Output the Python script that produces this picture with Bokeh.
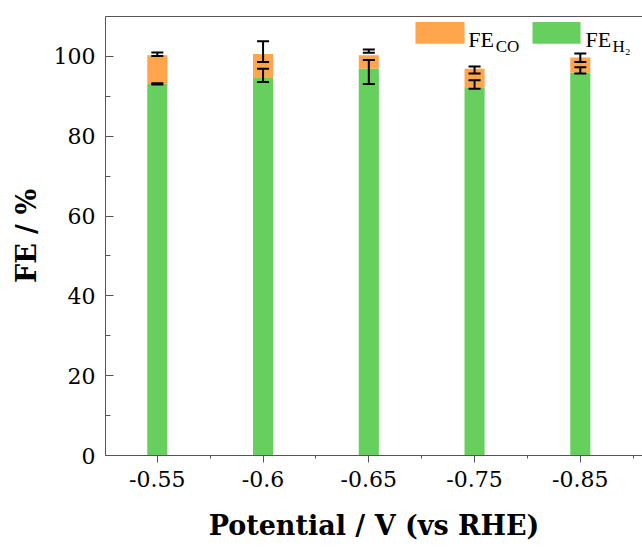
from bokeh.plotting import figure
from bokeh.models import (Range1d, FixedTicker, LinearAxis, Whisker, TeeHead,
                          ColumnDataSource, BoxAnnotation, Label)
from bokeh.embed import file_html
from bokeh.resources import INLINE

# ---- data ----
potential = ["-0.55", "-0.6", "-0.65", "-0.75", "-0.85"]
fe_h2 = [93.1, 94.6, 97.0, 92.3, 95.9]
fe_total = [100.3, 100.6, 100.3, 96.9, 99.7]
total_err_low = [100.1, 98.6, 100.9, 95.7, 98.6]
total_err_high = [101.0, 103.8, 101.7, 97.5, 100.7]
h2_err_low = [92.95, 93.6, 93.1, 91.9, 95.7]
h2_err_high = [93.3, 96.9, 99.1, 94.0, 97.3]

x_idx = list(range(len(potential)))
fe_co = [t - h for t, h in zip(fe_total, fe_h2)]

ORANGE = "#FFA54D"
GREEN = "#66CF5D"
SERIF = "Times New Roman"
AXFONT = "DejaVu Serif"

src = ColumnDataSource(dict(x=x_idx, h2=fe_h2, co=fe_co, total=fe_total,
                            tlo=total_err_low, thi=total_err_high,
                            hlo=h2_err_low, hhi=h2_err_high))

p = figure(width=642, height=553, output_backend="svg", toolbar_location=None,
           x_range=Range1d(-0.49, 4.588), y_range=Range1d(0, 110),
           min_border_left=105, min_border_right=0, min_border_top=16,
           min_border_bottom=98)
p.outline_line_color = None
p.grid.visible = False
p.background_fill_color = "white"

p.vbar_stack(["h2", "co"], x="x", width=0.19, source=src,
             color=[GREEN, ORANGE], line_color=None)

for lo, hi in (("tlo", "thi"), ("hlo", "hhi")):
    w = Whisker(base="x", lower=lo, upper=hi, source=src, level="overlay",
                line_color="black", line_width=2,
                upper_head=TeeHead(size=12, line_width=2, line_color="black"),
                lower_head=TeeHead(size=12, line_width=2, line_color="black"))
    p.add_layout(w)

AX = "#555555"
# x axis
xa = p.xaxis[0]
xa.ticker = FixedTicker(ticks=x_idx, minor_ticks=[-0.5, 0.5, 1.5, 2.5, 3.5, 4.5])
xa.major_label_overrides = {i: s for i, s in zip(x_idx, potential)}
xa.major_tick_in = 0
xa.major_tick_out = 7
xa.minor_tick_in = 0
xa.minor_tick_out = 3
xa.major_label_standoff = 8
xa.axis_label = "Potential / V (vs RHE)"
xa.axis_label_standoff = 20

# y axis
ya = p.yaxis[0]
ya.ticker = FixedTicker(ticks=[0, 20, 40, 60, 80, 100], minor_ticks=[10, 30, 50, 70, 90])
ya.major_tick_in = 8
ya.major_tick_out = 0
ya.minor_tick_in = 5
ya.minor_tick_out = 0
ya.major_label_standoff = 10
ya.axis_label = "FE / %"
ya.axis_label_standoff = 9

for ax in (xa, ya):
    ax.axis_line_color = AX
    ax.major_tick_line_color = AX
    ax.minor_tick_line_color = AX
    ax.major_label_text_font = AXFONT
    ax.major_label_text_font_size = "22px"
    ax.major_label_text_color = "black"
    ax.axis_label_text_font = AXFONT
    ax.axis_label_text_font_style = "bold"
    ax.axis_label_text_font_size = "27px"
    ax.axis_label_text_color = "black"

# top frame line
top = LinearAxis(ticker=FixedTicker(ticks=[]), major_label_text_font_size="0px",
                 axis_line_color=AX, major_tick_line_color=None,
                 minor_tick_line_color=None)
p.add_layout(top, "above")

# ---- legend (annotations) ----
p.add_layout(BoxAnnotation(left=2.441, right=2.905, bottom=103.2, top=108.6,
                           fill_color=ORANGE, fill_alpha=1, line_color=None))
p.add_layout(BoxAnnotation(left=3.548, right=4.002, bottom=103.2, top=108.6,
                           fill_color=GREEN, fill_alpha=1, line_color=None))
leg = [(2.94, 104.3, "FE", "22px"), (3.2, 102.6, "CO", "17px"),
       (4.048, 104.3, "FE", "22px"), (4.305, 102.6, "H\u2082", "17px")]
for lx, ly, t, fs in leg:
    p.add_layout(Label(x=lx, y=ly, text=t, text_font=SERIF, text_font_size=fs,
                       text_color="black", text_baseline="alphabetic"))

open("out.html", "w").write(file_html(p, INLINE))
